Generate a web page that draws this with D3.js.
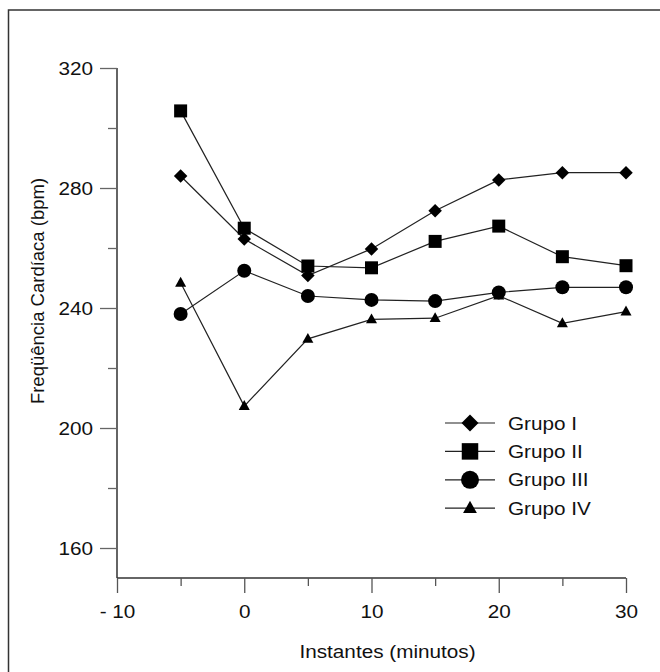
<!DOCTYPE html>
<html>
<head>
<meta charset="utf-8">
<script src="https://cdn.jsdelivr.net/npm/d3@7"></script>
<style>
  html, body { margin: 0; padding: 0; background: #fff; }
  text { font-family: "Liberation Sans", Arial, sans-serif; fill: #111; }
</style>
</head>
<body>
<svg id="chart" width="660" height="672"></svg>
<script>
const instantes = [-5, 0, 5, 10, 15, 20, 25, 30];
const grupoI   = [284.0, 263.0, 250.8, 259.7, 272.4, 282.7, 285.1, 285.1];
const grupoII  = [305.7, 266.6, 254.0, 253.4, 262.2, 267.3, 257.1, 254.1];
const grupoIII = [238.0, 252.4, 244.0, 242.7, 242.3, 245.2, 246.9, 246.9];
const grupoIV  = [248.4, 207.3, 229.7, 236.2, 236.6, 244.1, 234.9, 238.8];
const seriesNames = ["Grupo I", "Grupo II", "Grupo III", "Grupo IV"];
const seriesShapes = ["diamond", "square", "circle", "triangle"];
const xMajorTicks = [-10, 0, 10, 20, 30];
const xMinorTicks = [-5, 5, 15, 25];
const yMajorTicks = [160, 200, 240, 280, 320];
const yMinorTicks = [180, 220, 260, 300];
const xTitle = "Instantes (minutos)";
const yTitle = "Freqüência Cardíaca (bpm)";

const series = [grupoI, grupoII, grupoIII, grupoIV].map((vals, i) => ({
  name: seriesNames[i], shape: seriesShapes[i],
  points: instantes.map((t, j) => ({ t, v: vals[j] }))
}));

const svg = d3.select("#chart");
const FS = 18.5, SX = 1.12;

// outer frame (extends past right/bottom edges)
svg.append("rect").attr("x", 8.5).attr("y", 10).attr("width", 700).attr("height", 700)
  .attr("fill", "none").attr("stroke", "#333").attr("stroke-width", 1.5);

const x = d3.scaleLinear().domain([-10, 30]).range([117, 626]);
const y = d3.scaleLinear().domain([150, 320]).range([578, 68]);

function fmtX(d) { return d < 0 ? "- " + Math.abs(d) : String(d); }

// Y axis
const gy = svg.append("g").attr("transform", "translate(117,0)");
gy.call(d3.axisLeft(y).tickValues(yMajorTicks).tickSize(17).tickPadding(0).tickFormat(d => d));
gy.select(".domain").attr("stroke", "#111").attr("stroke-width", 1.3).attr("d", `M0,${y(320)}V${y(150)}`);
gy.selectAll(".tick line").attr("stroke", "#666").attr("stroke-width", 1.3);
gy.selectAll(".tick text").attr("x", null).attr("dy", null)
  .attr("text-anchor", "end").attr("font-size", FS)
  .attr("transform", "translate(-24,6.5) scale(" + SX + ",1)");
const gyMinor = svg.append("g").attr("transform", "translate(117,0)");
gyMinor.call(d3.axisLeft(y).tickValues(yMinorTicks).tickSize(9).tickFormat(""));
gyMinor.select(".domain").remove();
gyMinor.selectAll(".tick line").attr("stroke", "#666").attr("stroke-width", 1.3);

// X axis
const gx = svg.append("g").attr("transform", "translate(0,578)");
gx.call(d3.axisBottom(x).tickValues(xMajorTicks).tickSize(15).tickFormat(fmtX));
gx.select(".domain").attr("stroke", "#333").attr("stroke-width", 1.3).attr("d", `M${x(-10)},0H${x(30)}`);
gx.selectAll(".tick line").attr("stroke", "#555").attr("stroke-width", 1.3);
gx.selectAll(".tick text").attr("y", null).attr("dy", null)
  .attr("text-anchor", "middle").attr("font-size", FS)
  .attr("transform", "translate(0,40) scale(" + SX + ",1)");
const gxMinor = svg.append("g").attr("transform", "translate(0,578)");
gxMinor.call(d3.axisBottom(x).tickValues(xMinorTicks).tickSize(8).tickFormat(""));
gxMinor.select(".domain").remove();
gxMinor.selectAll(".tick line").attr("stroke", "#555").attr("stroke-width", 1.3);
svg.selectAll(".tick text").attr("fill", "#111").attr("font-family", "Liberation Sans, Arial, sans-serif");

// Titles
svg.append("text").attr("transform", `translate(${(x(-10)+x(30))/2 + 16},658) scale(${SX},1)`)
  .attr("text-anchor", "middle").attr("font-size", FS).text(xTitle);
svg.append("text").attr("transform", "translate(44,291) rotate(-90)")
  .attr("text-anchor", "middle").attr("font-size", FS).text(yTitle);

// marker path generator
function markerPath(shape, s) {
  const h = s / 2;
  if (shape === "diamond") return `M0,${-h}L${h},0L0,${h}L${-h},0Z`;
  if (shape === "square") return `M${-h},${-h}H${h}V${h}H${-h}Z`;
  if (shape === "circle") return `M${h},0A${h},${h} 0 1,1 ${-h},0A${h},${h} 0 1,1 ${h},0Z`;
  if (shape === "triangle") { const w = s * 0.46, t = s * 0.5, b = s * 0.32; return `M0,${-t}L${w},${b}L${-w},${b}Z`; }
}
const markerSize = { diamond: 13.5, square: 13, circle: 14, triangle: 12 };
const legendSize = { diamond: 17, square: 16.5, circle: 18, triangle: 15 };

const line = d3.line().x(d => x(d.t)).y(d => y(d.v));

series.forEach(s => {
  svg.append("path").datum(s.points).attr("d", line)
    .attr("fill", "none").attr("stroke", "#222").attr("stroke-width", 1.2);
});
series.forEach(s => {
  svg.append("g").selectAll("path").data(s.points).join("path")
    .attr("transform", d => `translate(${x(d.t)},${y(d.v)})`)
    .attr("d", markerPath(s.shape, markerSize[s.shape]))
    .attr("fill", "#000");
});

// legend
const legend = svg.append("g");
series.forEach((s, i) => {
  const ly = 423 + i * 28.4;
  legend.append("line").attr("x1", 445).attr("x2", 495).attr("y1", ly).attr("y2", ly)
    .attr("stroke", "#222").attr("stroke-width", 1.2);
  legend.append("path").attr("transform", `translate(470,${ly})`)
    .attr("d", markerPath(s.shape, legendSize[s.shape])).attr("fill", "#000");
  legend.append("text").attr("transform", `translate(508,${ly + 6.5}) scale(${SX},1)`)
    .attr("font-size", FS).text(s.name);
});
</script>
</body>
</html>
